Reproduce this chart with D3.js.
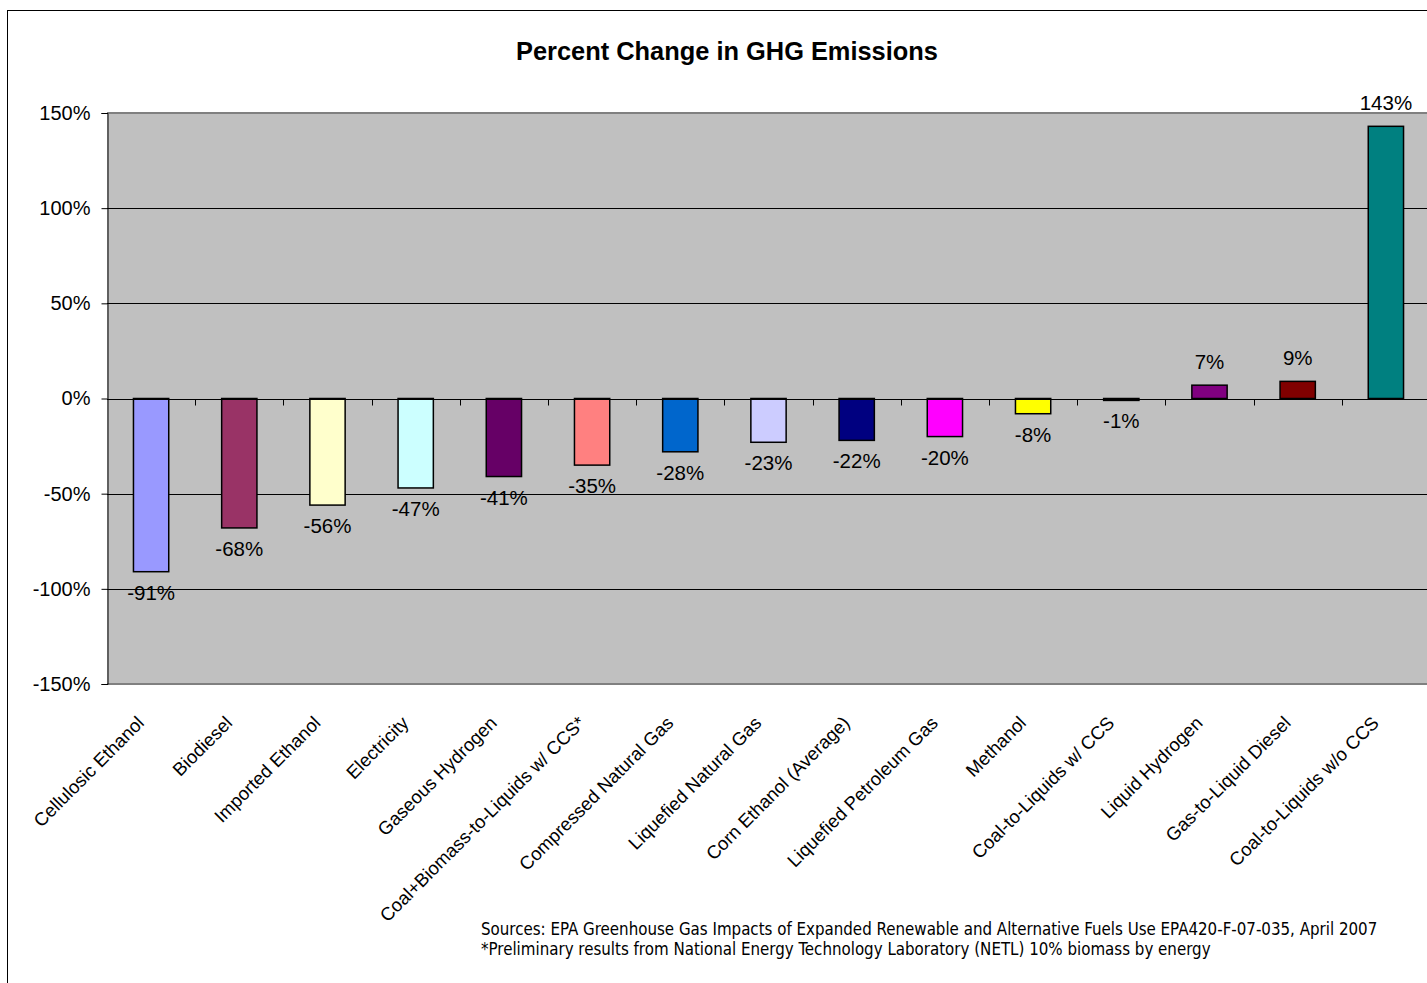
<!DOCTYPE html>
<html lang="en">
<head>
	<meta charset="UTF-8">
	<script src="https://d3js.org/d3.v7.min.js"></script>
	<title>Percent Change in GHG Emissions</title>
	<style>
		body{ margin:0; background:#fff; }
		text{ font-family: Arial, "Liberation Sans", sans-serif; fill:#000; }
		.title{ font-size:25.4px; font-weight:bold; }
		.ytick text{ font-size:20px; }
		.val{ font-size:20.5px; }
		.xlab{ font-size:18.5px; }
		.note{ font-family: "DejaVu Sans Condensed", "DejaVu Sans", sans-serif; font-size:16.75px; }
	</style>
</head>
<body>
<script>
	// data
	const fuels = ["Cellulosic Ethanol","Biodiesel","Imported Ethanol","Electricity","Gaseous Hydrogen",
		"Coal+Biomass-to-Liquids w/ CCS*","Compressed Natural Gas","Liquefied Natural Gas","Corn Ethanol (Average)",
		"Liquefied Petroleum Gas","Methanol","Coal-to-Liquids w/ CCS","Liquid Hydrogen","Gas-to-Liquid Diesel",
		"Coal-to-Liquids w/o CCS"];
	const change = [-91,-68,-56,-47,-41,-35,-28,-23,-22,-20,-8,-1,7,9,143];
	const barColors = ["#9999FF","#993366","#FFFFCC","#CCFFFF","#660066","#FF8080","#0066CC","#CCCCFF",
		"#000080","#FF00FF","#FFFF00","#00FFFF","#800080","#800000","#008080"];
	const yTicks = [-150,-100,-50,0,50,100,150];
	const notes = ["Sources:  EPA Greenhouse Gas Impacts of Expanded Renewable and Alternative Fuels Use EPA420-F-07-035, April 2007",
		"*Preliminary results from National Energy Technology Laboratory (NETL) 10% biomass by energy"];

	const width = 1427, height = 983;
	const plotL = 107, plotR = 1430, plotT = 113, plotB = 684;

	const svg = d3.select("body").append("svg")
		.attr("width", width)
		.attr("height", height);

	// outer chart border
	svg.append("rect")
		.attr("x", 7.5).attr("y", 10.5)
		.attr("width", 1440).attr("height", 990)
		.attr("fill", "#fff").attr("stroke", "#000");

	svg.append("text")
		.attr("class", "title")
		.attr("x", 727).attr("y", 60)
		.attr("text-anchor", "middle")
		.text("Percent Change in GHG Emissions");

	let x = d3.scaleBand().domain(fuels).range([plotL, plotR]).padding(0);
	let y = d3.scaleLinear().domain([-150, 150]).range([plotB, plotT]);

	// plot area
	svg.append("rect")
		.attr("x", plotL).attr("y", plotT)
		.attr("width", plotR - plotL).attr("height", plotB - plotT)
		.attr("fill", "#C0C0C0");

	// gridlines
	svg.selectAll(".grid")
		.data(yTicks.filter(d => d !== 150 && d !== -150))
		.enter().append("line")
		.attr("x1", plotL).attr("x2", plotR)
		.attr("y1", d => Math.round(y(d)) + 0.5)
		.attr("y2", d => Math.round(y(d)) + 0.5)
		.attr("stroke", "#000").attr("stroke-width", 1);

	// top / bottom frame of plot area
	svg.append("line")
		.attr("x1", plotL).attr("x2", plotR)
		.attr("y1", plotT).attr("y2", plotT)
		.attr("stroke", "#808080").attr("stroke-width", 2);
	svg.append("line")
		.attr("x1", plotL).attr("x2", plotR)
		.attr("y1", plotB).attr("y2", plotB)
		.attr("stroke", "#808080").attr("stroke-width", 2);

	// y axis
	const yAxis = svg.append("g")
		.attr("class", "ytick")
		.attr("transform", "translate(" + (plotL + 0.5) + ",0)")
		.call(d3.axisLeft(y).tickValues(yTicks).tickSize(6).tickPadding(11)
			.tickFormat(d => d + "%"));
	yAxis.select(".domain").attr("stroke", "#000");
	yAxis.selectAll(".tick line").attr("stroke", "#000");
	yAxis.selectAll("text").style("font-size", "20px");

	// bars
	const bw = x.bandwidth() * 0.4;
	svg.selectAll(".bar")
		.data(fuels)
		.enter().append("rect")
		.attr("class", "bar")
		.attr("x", d => x(d) + (x.bandwidth() - bw) / 2)
		.attr("y", (d, i) => y(Math.max(0, change[i])))
		.attr("width", bw)
		.attr("height", (d, i) => Math.abs(y(change[i]) - y(0)))
		.attr("fill", (d, i) => barColors[i])
		.attr("stroke", "#000")
		.attr("stroke-width", 1.5);

	// x axis at zero with ticks between categories
	const y0 = Math.round(y(0)) + 0.5;
	svg.append("line")
		.attr("x1", plotL).attr("x2", plotR)
		.attr("y1", y0).attr("y2", y0)
		.attr("stroke", "#000");
	svg.selectAll(".xtick")
		.data(fuels.slice(1))
		.enter().append("line")
		.attr("x1", d => Math.round(x(d)) + 0.5)
		.attr("x2", d => Math.round(x(d)) + 0.5)
		.attr("y1", y0).attr("y2", y0 + 6)
		.attr("stroke", "#000");

	// value labels
	svg.selectAll(".val")
		.data(fuels)
		.enter().append("text")
		.attr("class", "val")
		.attr("text-anchor", "middle")
		.attr("x", d => x(d) + x.bandwidth() / 2)
		.attr("y", (d, i) => change[i] < 0 ? y(change[i]) + 28 : y(change[i]) - 16)
		.text((d, i) => change[i] + "%");

	// category labels
	svg.selectAll(".xlab")
		.data(fuels)
		.enter().append("text")
		.attr("class", "xlab")
		.attr("text-anchor", "end")
		.attr("transform", d => "translate(" + (x(d) + x.bandwidth() / 2 - 15) + ",715) rotate(-45)")
		.attr("dy", "0.7em")
		.text(d => d);

	// footnotes
	svg.selectAll(".note")
		.data(notes)
		.enter().append("text")
		.attr("class", "note")
		.attr("x", 481)
		.attr("y", (d, i) => 935 + i * 20)
		.text(d => d);
</script>
</body>
</html>
